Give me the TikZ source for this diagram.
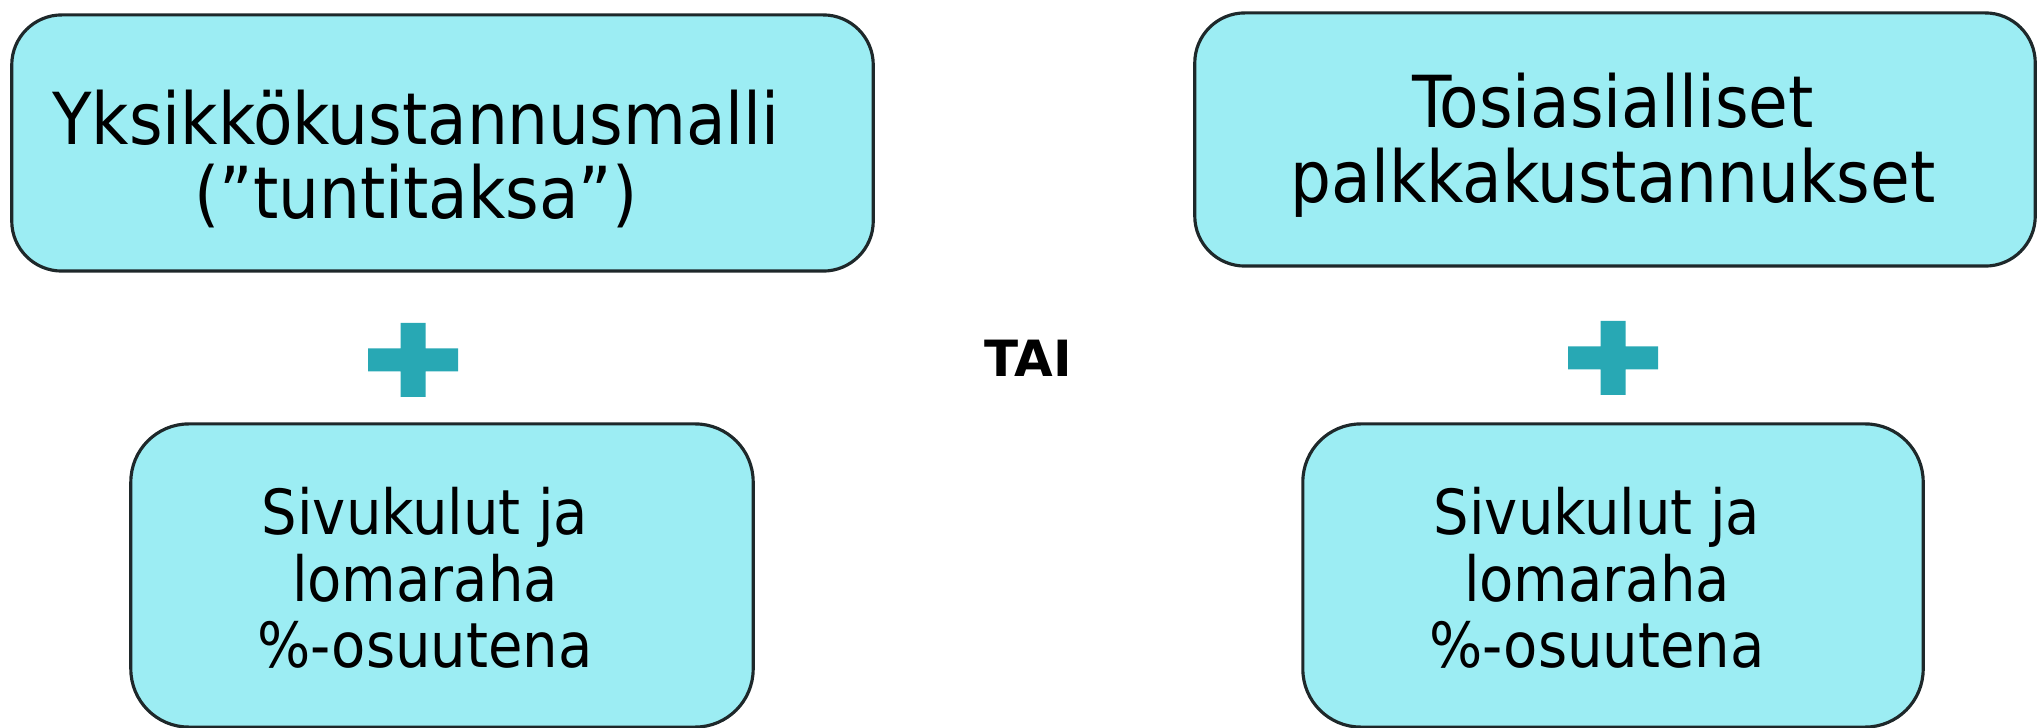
\documentclass[tikz,border=0pt]{standalone}
\usepackage{fontspec}
\setmainfont{DejaVu Sans Condensed}
\newfontfamily\taifont{DejaVu Sans}
\usepackage{tikz}
\usetikzlibrary{calc,positioning}
\definecolor{boxfill}{RGB}{156,237,243}
\definecolor{boxline}{RGB}{30,40,42}
\definecolor{plusfill}{RGB}{40,168,180}
\tikzset{cost box/.style={rectangle,draw=boxline,line width=0.9pt,fill=boxfill,inner sep=0},
	big text/.style={align=center,font=\fontsize{20.4}{21.2}\selectfont},
	small text/.style={align=center,font=\fontsize{17.7}{18.9}\selectfont}}

\begin{document}
\begin{tikzpicture}[x=0.01cm,y=-0.01cm]
	\useasboundingbox (0,0) rectangle (2037,728);
	
	% upper row
	\node[cost box,minimum width=8.61cm,minimum height=2.56cm,rounded corners=0.5cm] (yks) at (442.5,143) {};
	\node[big text] (yksT) at (416,159) {Yksikkökustannusmalli\\(”tuntitaksa”)};
	
	\node[cost box,minimum width=8.40cm,minimum height=2.53cm,rounded corners=0.5cm] (tos) at (1615,139.5) {};
	\node[big text] (tosT) at (1613,145) {Tosiasialliset\\palkkakustannukset};
	
	% plus signs and TAI
	\coordinate (plus1) at (413,360);
	\coordinate (plus2) at (1613,358);
	\fill[plusfill,shift={(plus1)}] (-45,-11.5) rectangle (45,11.5) (-12.5,-37) rectangle (12.5,37);
	\fill[plusfill,shift={(plus2)}] (-45,-11.5) rectangle (45,11.5) (-12.5,-37) rectangle (12.5,37);
	\node[font=\taifont\bfseries\fontsize{14.2}{15}\selectfont] (tai) at (1028,358) {TAI};
	
	% lower row
	\node[cost box,minimum width=6.22cm,minimum height=3.03cm,rounded corners=0.58cm] (siv1) at (442,575.5) {};
	\node[small text] (siv1T) at (425,578) {Sivukulut ja\\lomaraha\\\%-osuutena};
	
	\node[cost box,minimum width=6.20cm,minimum height=3.03cm,rounded corners=0.58cm] (siv2) at (1613,575.5) {};
	\node[small text] (siv2T) at (1597,578) {Sivukulut ja\\lomaraha\\\%-osuutena};
\end{tikzpicture}
\end{document}
